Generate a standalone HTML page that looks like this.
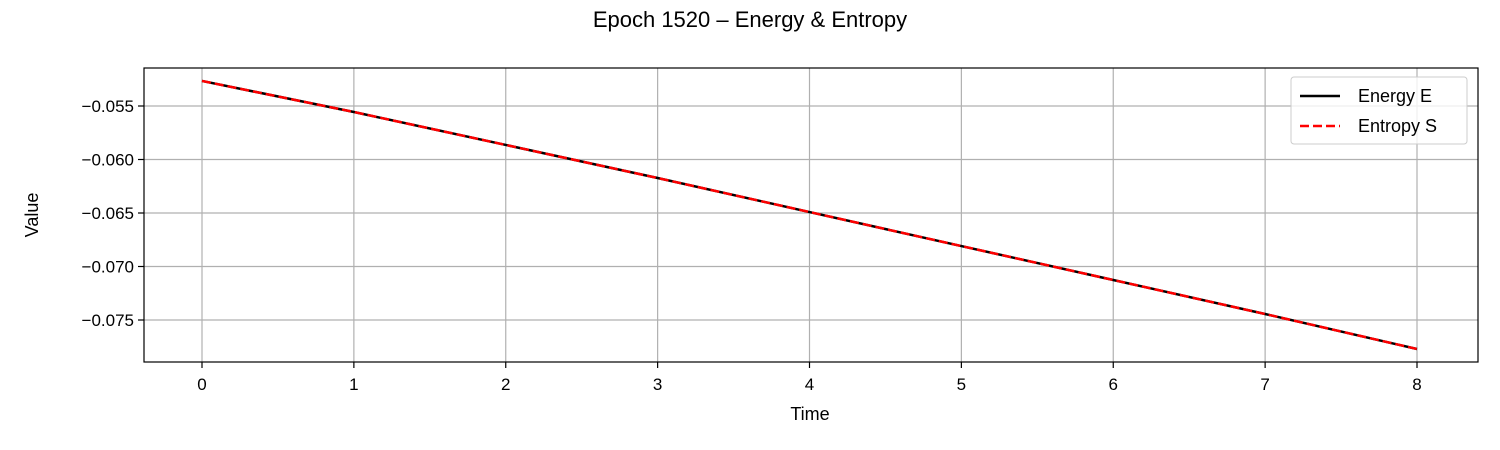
<!DOCTYPE html>
<html><head><meta charset="utf-8"><style>
html,body{margin:0;padding:0;background:#fff;}
svg{display:block;font-family:"Liberation Sans","DejaVu Sans",sans-serif;}
</style></head><body>
<svg id="chart" width="1500" height="450" viewBox="0 0 1500 450">
<text x="750" y="27" text-anchor="middle" font-size="22" fill="#000">Epoch 1520 – Energy &amp; Entropy</text>
<g id="grid"></g>
<g id="ticks"></g>
<g id="series"></g>
<rect x="144" y="68" width="1334" height="294" fill="none" stroke="#000" stroke-width="1.2"/>
<text x="810" y="420" text-anchor="middle" font-size="18">Time</text>
<text transform="translate(38,215) rotate(-90)" text-anchor="middle" font-size="18">Value</text>
<g>
<rect x="1291" y="77" width="176" height="67" rx="3" fill="#fff" fill-opacity="0.8" stroke="#ccc"/>
<line x1="1300" y1="96" x2="1340" y2="96" stroke="#000" stroke-width="2.5"/>
<text x="1358" y="102" font-size="18">Energy E</text>
<line x1="1300" y1="126" x2="1340" y2="126" stroke="#f00" stroke-width="2.5" stroke-dasharray="9,4"/>
<text x="1358" y="132" font-size="18">Entropy S</text>
</g>
</svg>
<script>
const times = [0,1,2,3,4,5,6,7,8];
const energy = [-0.05266,-0.05556,-0.05864,-0.06173,-0.06491,-0.06809,-0.07126,-0.07444,-0.07771];
const entropy = [-0.05266,-0.05556,-0.05864,-0.06173,-0.06491,-0.06809,-0.07126,-0.07444,-0.07771];
const xTicks = [0,1,2,3,4,5,6,7,8];
const yTicks = [-0.055,-0.060,-0.065,-0.070,-0.075];
const yTickLabels = ["−0.055","−0.060","−0.065","−0.070","−0.075"];

const NS="http://www.w3.org/2000/svg";
function sx(t){return 202 + t*(1417-202)/8;}
function sy(v){return 106 + (-0.055 - v)/0.005*53.5;}
function mk(tag,attrs,parent){const e=document.createElementNS(NS,tag);for(const k in attrs)e.setAttribute(k,attrs[k]);parent.appendChild(e);return e;}
const grid=document.getElementById('grid'),ticks=document.getElementById('ticks'),series=document.getElementById('series');
xTicks.forEach(t=>{
  const x=sx(t);
  const g=mk('line',{x1:x,x2:x,y1:68,y2:362,stroke:'#b0b0b0','stroke-width':1.2},grid);
  
  
  const tk=mk('line',{x1:x,x2:x,y1:362,y2:368,stroke:'#000','stroke-width':1.2},ticks);
  
  
  const tx=mk('text',{x:x,y:390,'text-anchor':'middle','font-size':17},ticks);
  tx.textContent=String(t);
  
  
});
yTicks.forEach((v,i)=>{
  const y=sy(v);
  const g=mk('line',{x1:144,x2:1478,y1:y,y2:y,stroke:'#b0b0b0','stroke-width':1.2},grid);
  
  
  const tk=mk('line',{x1:138,x2:144,y1:y,y2:y,stroke:'#000','stroke-width':1.2},ticks);
  
  
  const tx=mk('text',{x:134,y:y+6,'text-anchor':'end','font-size':17},ticks);
  tx.textContent=yTickLabels[i];
  
  
});
function pts(vals){return times.map((t,i)=>sx(t)+','+sy(vals[i])).join(' ');}
const e=mk('polyline',{points:pts(energy),fill:'none',stroke:'#000','stroke-width':2.5},series);


const s=mk('polyline',{points:pts(entropy),fill:'none',stroke:'#f00','stroke-width':2.5,'stroke-dasharray':'9,4'},series);


</script>
</body></html>
